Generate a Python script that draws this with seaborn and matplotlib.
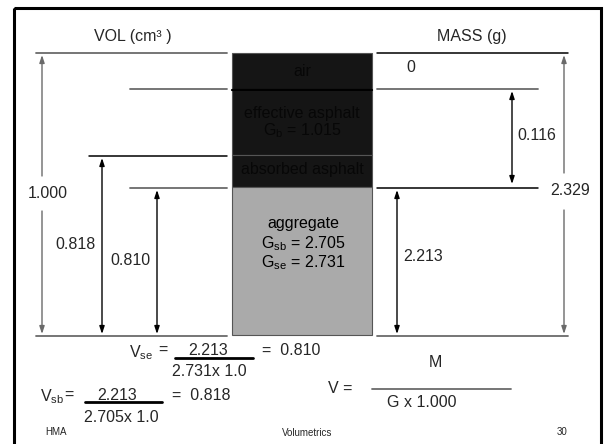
"""
HMA volumetrics slide: phase diagram of a compacted mix
"""

import matplotlib
matplotlib.use("Agg")
import matplotlib.pyplot as plt
from matplotlib.patches import Rectangle
import seaborn as sns

# ==============================================================================
# ========== Data ==========
layer_names = ["air", "effective asphalt", "absorbed asphalt", "aggregate"]
layer_notes = ["", "G$_{b}$ = 1.015", "", "G$_{sb}$ = 2.705\nG$_{se}$ = 2.731"]
vol_values = [1.000, 0.818, 0.810]
mass_values = [0, 0.116, 2.329, 2.213]
gsb, gse, mass_agg = 2.705, 2.731, 2.213

# ==============================================================================
sns.set_style("white")
plt.rcParams["font.family"] = ["Liberation Sans", "DejaVu Sans"]
plt.rcParams["mathtext.default"] = "regular"

fig = plt.figure(figsize=(6.05, 4.44), dpi=100)
ax = fig.add_axes([0, 0, 1, 1])
ax.set_xlim(0, 605)
ax.set_ylim(444, 0)
ax.axis("off")

# slide border
ax.add_patch(Rectangle((14, 8), 587, 460, fill=False, ec="black", lw=2.2))

# ========== column of phases ==========
layer_edges = [53, 90, 155, 187, 335]
layer_fill = ["#151515", "#151515", "#151515", "#aaaaaa"]
layer_txt = ["#070707", "#070707", "#070707", "black"]
for i, name in enumerate(layer_names):
    top, bot = layer_edges[i], layer_edges[i + 1]
    ax.bar(302, bot - top, width=140, bottom=top, color=layer_fill[i],
           edgecolor="#555555", linewidth=0.8)
fs = 11.5
ax.text(302, 72, layer_names[0], ha="center", va="center", fontsize=fs, color=layer_txt[0])
ax.text(302, 113, layer_names[1], ha="center", va="center", fontsize=fs, color=layer_txt[1])
ax.text(302, 131, layer_notes[1], ha="center", va="center", fontsize=fs, color=layer_txt[1])
ax.text(302, 169, layer_names[2], ha="center", va="center", fontsize=fs, color=layer_txt[2])
ax.text(303, 223, layer_names[3], ha="center", va="center", fontsize=fs, color="black")
ax.text(303, 253, layer_notes[3], ha="center", va="center", fontsize=fs, color="black",
        linespacing=1.05)
ax.plot([232, 372], [90, 90], color="black", lw=1.6)

# ========== horizontal guide lines ==========
gray = "#6a6a6a"
ax.plot([36, 227], [53, 53], color=gray, lw=1.3)
ax.plot([130, 227], [89, 89], color=gray, lw=1.3)
ax.plot([89, 227], [156, 156], color="black", lw=1.1)
ax.plot([130, 227], [188, 188], color=gray, lw=1.3)
ax.plot([36, 227], [336, 336], color=gray, lw=1.3)
ax.plot([377, 568], [53, 53], color="black", lw=1.1)
ax.plot([377, 538], [89, 89], color=gray, lw=1.3)
ax.plot([377, 538], [188, 188], color="black", lw=1.1)
ax.plot([377, 568], [336, 336], color=gray, lw=1.3)


def arrow(x, y0, y1, color="black", style="<|-|>"):
    ax.annotate("", xy=(x, y1), xytext=(x, y0),
                arrowprops=dict(arrowstyle=style + ",head_length=0.45,head_width=0.15",
                                color=color, lw=1.0, shrinkA=0, shrinkB=0,
                                mutation_scale=10))


# ========== volume dimensions ==========
arrow(42, 176, 55, color=gray, style="-|>")
arrow(42, 211, 334, color=gray, style="-|>")
ax.text(48, 193, f"{vol_values[0]:.3f}", ha="center", va="center", fontsize=fs)
arrow(102, 158, 334)
ax.text(75, 244, f"{vol_values[1]:.3f}", ha="center", va="center", fontsize=fs)
arrow(157, 190, 334)
ax.text(130, 260, f"{vol_values[2]:.3f}", ha="center", va="center", fontsize=fs)

# ========== mass dimensions ==========
ax.text(411, 68, f"{mass_values[0]}", ha="center", va="center", fontsize=fs)
arrow(512, 91, 184)
ax.text(537, 135, f"{mass_values[1]:.3f}", ha="center", va="center", fontsize=fs)
arrow(564, 173, 55, color=gray, style="-|>")
arrow(564, 210, 334, color=gray, style="-|>")
ax.text(570, 190, f"{mass_values[2]:.3f}", ha="center", va="center", fontsize=fs)
arrow(397, 190, 334)
ax.text(423, 256, f"{mass_values[3]:.3f}", ha="center", va="center", fontsize=fs)

# ========== headers ==========
ax.text(133, 37, "VOL (cm³ )", ha="center", va="center", fontsize=fs)
ax.text(472, 37, "MASS (g)", ha="center", va="center", fontsize=fs)

# ========== formulas ==========
ax.text(141, 353, "V$_{se}$", ha="center", va="center", fontsize=fs)
ax.text(163, 350, "=", ha="center", va="center", fontsize=fs)
ax.text(208, 350, f"{mass_agg:.3f}", ha="center", va="center", fontsize=fs)
ax.plot([175, 253], [358, 358], color="black", lw=2.0)
ax.text(209, 371, f"{gse:.3f}x 1.0", ha="center", va="center", fontsize=fs)
ax.text(262, 350, f"=  {mass_agg / gse:.3f}", ha="left", va="center", fontsize=fs)

ax.text(52, 397, "V$_{sb}$", ha="center", va="center", fontsize=fs)
ax.text(69, 395, "=", ha="center", va="center", fontsize=fs)
ax.text(117, 395, f"{mass_agg:.3f}", ha="center", va="center", fontsize=fs)
ax.plot([85, 162], [402, 402], color="black", lw=2.0)
ax.text(121, 417, f"{gsb:.3f}x 1.0", ha="center", va="center", fontsize=fs)
ax.text(172, 395, f"=  {mass_agg / gsb:.3f}", ha="left", va="center", fontsize=fs)

ax.text(435, 362, "M", ha="center", va="center", fontsize=fs)
ax.text(328, 388, "V =", ha="left", va="center", fontsize=fs)
ax.plot([372, 511], [389, 389], color=gray, lw=1.3)
ax.text(422, 402, "G x 1.000", ha="center", va="center", fontsize=fs)

# ========== footer ==========
ax.text(45, 432, "HMA", ha="left", va="center", fontsize=7)
ax.text(307, 433, "Volumetrics", ha="center", va="center", fontsize=7)
ax.text(562, 432, "30", ha="center", va="center", fontsize=7)

fig.savefig("out.png", dpi=100)
